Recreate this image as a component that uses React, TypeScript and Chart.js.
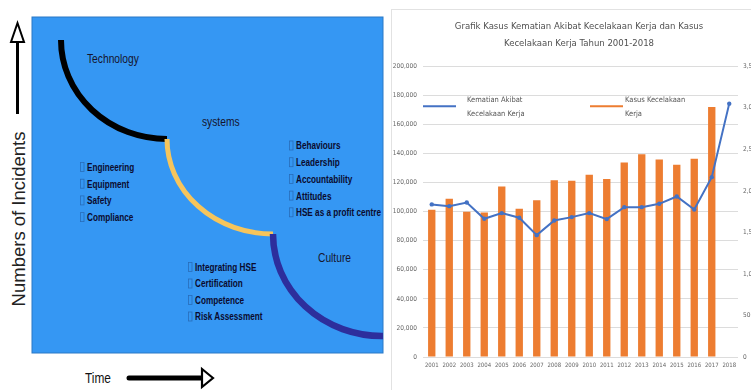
import React, { useEffect, useRef } from 'react';
import { Chart, registerables } from 'chart.js';

Chart.register(...registerables);

// ---------- data ----------
const years = ['2001', '2002', '2003', '2004', '2005', '2006', '2007', '2008', '2009', '2010', '2011', '2012', '2013', '2014', '2015', '2016', '2017', '2018'];
const kasusKecelakaan = [101300, 108800, 99900, 99400, 117300, 101900, 107900, 121600, 121200, 125300, 122500, 133800, 139500, 135900, 132200, 136300, 172000, null];
const kematian = [1837, 1816, 1860, 1664, 1732, 1676, 1467, 1644, 1684, 1732, 1660, 1804, 1804, 1844, 1932, 1776, 2165, 3050];
const titleLines = ['Grafik Kasus Kematian Akibat Kecelakaan Kerja dan Kasus', 'Kecelakaan Kerja Tahun 2001-2018'];
const labelKematian = 'Kematian Akibat Kecelakaan Kerja';
const labelKasus = 'Kasus Kecelakaan Kerja';
const leftAxis = { min: 0, max: 200000, step: 20000 };
const rightAxis = { min: 0, max: 3500, step: 500 };

// diagram texts
const stageLabels = ['Technology', 'systems', 'Culture'];
const techItems = ['Engineering', 'Equipment', 'Safety', 'Compliance'];
const systemItems = ['Integrating HSE', 'Certification', 'Competence', 'Risk Assessment'];
const cultureItems = ['Behaviours', 'Leadership', 'Accountability', 'Attitudes', 'HSE as a profit centre'];
const yAxisTitle = 'Numbers of Incidents';
const xAxisTitle = 'Time';

const COND = "'DejaVu Sans Condensed', 'Liberation Sans', sans-serif";
const SANS = "'Liberation Sans', Arial, sans-serif";
const GRAY = '#666666';

const legendPlugin = {
  id: 'insideLegend',
  afterDraw(chart: any) {
    const ctx = chart.ctx;
    const a = chart.chartArea;
    const offsets = [0, 167];
    ctx.save();
    ctx.font = `7.5px ${COND}`;
    ctx.textBaseline = 'middle';
    ctx.fillStyle = '#555555';
    [0, 1].forEach((di, i) => {
      const ds = chart.data.datasets[di];
      const x0 = a.left + offsets[i];
      const y = a.top + 40;
      ctx.strokeStyle = di === 0 ? ds.borderColor : ds.backgroundColor;
      ctx.lineWidth = 2;
      ctx.beginPath();
      ctx.moveTo(x0, y);
      ctx.lineTo(x0 + 33, y);
      ctx.stroke();
      const words = String(ds.label).split(' ');
      const lines: string[] = [];
      let cur = '';
      words.forEach((w) => {
        const t = cur ? cur + ' ' + w : w;
        if (ctx.measureText(t).width > 66 && cur) {
          lines.push(cur);
          cur = w;
        } else cur = t;
      });
      if (cur) lines.push(cur);
      const tx = x0 + (i === 0 ? 44 : 35);
      lines.forEach((l, li) => {
        ctx.fillText(l, tx, y - 6 + li * 14);
      });
    });
    ctx.restore();
  },
};

function ChartPanel() {
  const ref = useRef<HTMLCanvasElement | null>(null);
  useEffect(() => {
    if (!ref.current) return;
    const chart = new Chart(ref.current, {
      type: 'bar',
      data: {
        labels: years,
        datasets: [
          {
            type: 'line',
            label: labelKematian,
            data: kematian,
            yAxisID: 'y1',
            borderColor: '#4472c4',
            backgroundColor: '#4472c4',
            borderWidth: 2,
            pointRadius: 2.2,
            pointBackgroundColor: '#4472c4',
            pointBorderWidth: 0,
            tension: 0,
            order: 0,
          } as any,
          {
            type: 'bar',
            label: labelKasus,
            data: kasusKecelakaan,
            yAxisID: 'y',
            backgroundColor: '#ed7d31',
            barPercentage: 0.42,
            categoryPercentage: 1,
            order: 1,
          } as any,
        ],
      },
      options: {
        responsive: false,
        maintainAspectRatio: false,
        devicePixelRatio: 1,
        animation: false,
        layout: { padding: { top: 0, bottom: 13, left: 0, right: 0 } },
        plugins: {
          legend: { display: false },
          tooltip: { enabled: false },
          title: {
            display: true,
            text: titleLines,
            color: '#505050',
            font: { size: 9.5, family: COND, weight: 'normal', lineHeight: 1.75 },
            padding: { top: 18.5, bottom: 14.5 },
          },
        },
        scales: {
          x: {
            grid: { display: false, drawTicks: false },
            border: { display: false },
            ticks: { font: { size: 6, family: COND }, color: GRAY, maxRotation: 0, autoSkip: false, padding: 5 },
            afterFit: (s: any) => { s.height = 20; },
          },
          y: {
            position: 'left',
            min: leftAxis.min,
            max: leftAxis.max,
            grid: { color: '#dcdcdc', drawTicks: false, lineWidth: 1 },
            border: { display: false },
            ticks: {
              stepSize: leftAxis.step,
              font: { size: 6.5, family: COND },
              color: GRAY,
              padding: 6,
              callback: (v: any) => Number(v).toLocaleString('en-US'),
            },
            afterFit: (s: any) => { s.width = 33; },
          },
          y1: {
            position: 'right',
            min: rightAxis.min,
            max: rightAxis.max,
            grid: { display: false, drawTicks: false },
            border: { display: false },
            ticks: {
              stepSize: rightAxis.step,
              font: { size: 6.5, family: COND },
              color: GRAY,
              padding: 5,
              callback: (v: any) => Number(v).toLocaleString('en-US'),
            },
            afterFit: (s: any) => { s.width = 30; },
          },
        },
      },
      plugins: [legendPlugin],
    } as any);
    return () => chart.destroy();
  }, []);
  return <canvas ref={ref} width={378} height={390} style={{ display: 'block', width: 378, height: 390 }} />;
}

function NText({ x, y, size, bold, fill, sx = 0.82, children }: { x: number; y: number; size: number; bold?: boolean; fill: string; sx?: number; children: any }) {
  return (
    <text
      x={0}
      y={0}
      transform={`translate(${x},${y}) scale(${sx},1)`}
      dominantBaseline="central"
      fontFamily={SANS}
      fontWeight={bold ? 'bold' : 'normal'}
      fontSize={size}
      fill={fill}
    >
      {children}
    </text>
  );
}

function Bullet({ x, y, text }: { x: number; y: number; text: string }) {
  return (
    <g>
      <rect x={x - 6.5} y={y - 4.5} width={3.5} height={9} fill="none" stroke="rgba(10,10,50,0.3)" strokeWidth={0.8} />
      <NText x={x} y={y} size={10.5} sx={0.78} bold fill="#0b0b2e">{text}</NText>
    </g>
  );
}

function Diagram() {
  return (
    <svg width={390} height={390} style={{ position: 'absolute', left: 0, top: 0 }}>
      <rect x={32} y={17} width={351} height={336} fill="#3597f3" stroke="#2a78c6" strokeWidth={1} />
      {/* curves */}
      <path d="M61,40 A106,99 0 0 0 167,139" fill="none" stroke="#000" strokeWidth={6} />
      <path d="M167,139 A106,95 0 0 0 273,234" fill="none" stroke="#f6c55c" strokeWidth={5} />
      <path d="M273,234 A109,102 0 0 0 383,336" fill="none" stroke="#2d2e9c" strokeWidth={6.5} />
      {/* stage labels */}
      <NText x={87} y={59} size={12.5} fill="#15152e">{stageLabels[0]}</NText>
      <NText x={202} y={122} size={12.5} fill="#15152e">{stageLabels[1]}</NText>
      <NText x={318} y={258} size={12.5} fill="#15152e">{stageLabels[2]}</NText>
      {techItems.map((t, i) => <Bullet key={t} x={87} y={167 + i * 16.7} text={t} />)}
      {systemItems.map((t, i) => <Bullet key={t} x={195} y={267 + i * 16.5} text={t} />)}
      {cultureItems.map((t, i) => <Bullet key={t} x={296} y={145.5 + i * 16.7} text={t} />)}
      {/* y axis title and arrow */}
      <text
        x={0}
        y={0}
        transform="translate(18,219) rotate(-90)"
        textAnchor="middle"
        dominantBaseline="central"
        fontFamily={SANS}
        fontSize={18.5}
        fill="#222"
      >
        {yAxisTitle}
      </text>
      <line x1={17.5} y1={42} x2={17.5} y2={114} stroke="#000" strokeWidth={3} />
      <path d="M17.5,23 L24,42 L11,42 Z" fill="#fff" stroke="#000" strokeWidth={2} />
      {/* x axis title and arrow */}
      <NText x={85} y={378} size={14.5} fill="#111">{xAxisTitle}</NText>
      <line x1={129} y1={378} x2={202} y2={378} stroke="#000" strokeWidth={5} strokeLinecap="round" />
      <path d="M213,378 L202,369 L202,387 Z" fill="#fff" stroke="#000" strokeWidth={2.2} />
    </svg>
  );
}

export default function App() {
  return (
    <div style={{ position: 'absolute', left: 0, top: 0, width: 751, height: 390, background: '#fff', overflow: 'hidden' }}>
      <Diagram />
      <div style={{ position: 'absolute', left: 390, top: 0, width: 361, height: 390, overflow: 'hidden' }}>
        <ChartPanel />
        <div style={{ position: 'absolute', left: 1, top: 9, width: 400, height: 400, border: '1px solid #e2e2e2', boxSizing: 'border-box', pointerEvents: 'none' }} />
      </div>
    </div>
  );
}
